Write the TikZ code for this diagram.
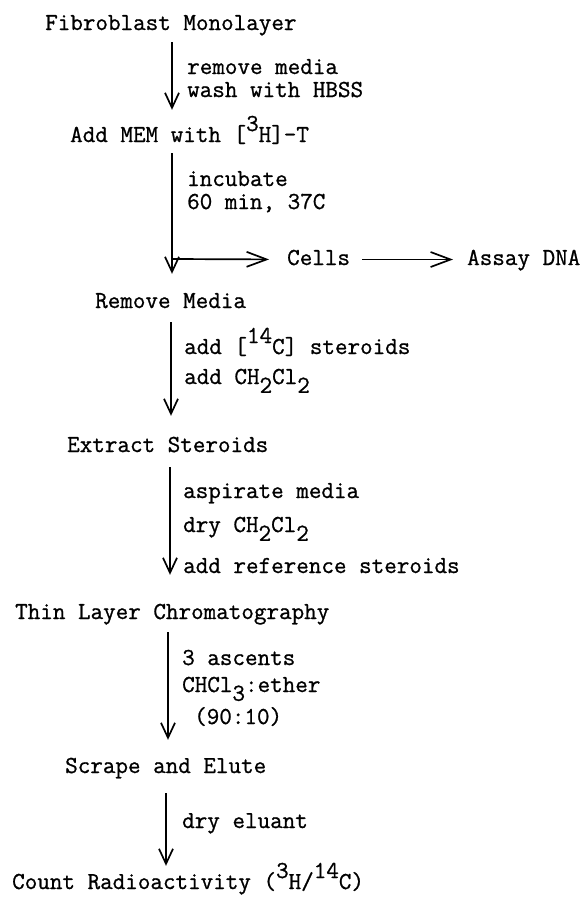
\documentclass[tikz,border=0pt]{standalone}
\usepackage{fontspec}
\setmonofont[FakeBold=0.9]{Latin Modern Mono}
\usetikzlibrary{arrows.meta}
\newcommand{\isosup}[1]{\raisebox{0.45em}{#1}}
\newcommand{\chemsub}[1]{\raisebox{-0.36em}{#1}}
\tikzset{
  stepnode/.style={anchor=base west, inner sep=0pt, text height=16pt, text depth=5pt},
  lbl/.style={anchor=base west, inner sep=0pt},
  varr/.style={-{Straight Barb[length=15pt,width=14pt]}, line width=1.7pt},
  harr/.style={-{Straight Barb[length=20pt,width=15pt]}, line width=1.7pt},
}
\begin{document}
\begin{tikzpicture}[x=1pt,y=-1pt,font=\fontsize{24.4}{28}\selectfont\ttfamily]
  \useasboundingbox (0,0) rectangle (587,898);
  % steps
  \node[stepnode] (fib) at (45,30) {Fibroblast Monolayer};
  \node[stepnode] (mem) at (70,142) {Add MEM with [\isosup{3}H]-T};
  \node[stepnode] (rem) at (95,308) {Remove Media};
  \node[stepnode] (ext) at (67,452) {Extract Steroids};
  \node[stepnode] (tlc) at (15,619) {Thin Layer Chromatography};
  \node[stepnode] (scr) at (65,773) {Scrape and Elute};
  \node[stepnode] (cnt) at (12,889) {Count Radioactivity (\isosup{3}H/\isosup{14}C)};
  \node[stepnode] (cells) at (287,265) {Cells};
  \node[stepnode] (assay) at (467,265) {Assay DNA};
  % labels beside the arrows
  \node[lbl] (l1a) at (187,74) {remove media};
  \node[lbl] (l1b) at (187,97) {wash with HBSS};
  \node[lbl] (l2a) at (187,186) {incubate};
  \node[lbl] (l2b) at (187,209) {60 min, 37C};
  \node[lbl] (l3a) at (184,354) {add [\isosup{14}C] steroids};
  \node[lbl] (l3b) at (184,384) {add CH\chemsub{2}Cl\chemsub{2}};
  \node[lbl] (l4a) at (183,498) {aspirate media};
  \node[lbl] (l4b) at (183,532) {dry CH\chemsub{2}Cl\chemsub{2}};
  \node[lbl] (l4c) at (183,573) {add reference steroids};
  \node[lbl] (l5a) at (182,665) {3 ascents};
  \node[lbl] (l5b) at (182,692) {CHCl\chemsub{3}:ether};
  \node[lbl] (l5c) at (194,724) {(90:10)};
  \node[lbl] (l6a) at (182,828) {dry eluant};
  % arrows
  \draw[varr, shorten <=7pt, shorten >=16pt] (fib.south -| 172,0) -- (mem.north -| 172,0);
  \draw[varr, shorten <=6pt, shorten >=18pt] (mem.south -| 172,0) -- (rem.north -| 172,0);
  \coordinate (br) at (172,259);
  \draw[harr, shorten >=18pt] (br) -- (cells.west);
  \draw[harr, shorten <=12pt, shorten >=14pt] (cells.east) -- (assay.west);
  \draw[varr, shorten <=9pt, shorten >=20pt] (rem.south -| 171,0) -- (ext.north -| 171,0);
  \draw[varr, shorten <=10pt, shorten >=28pt] (ext.south -| 170,0) -- (tlc.north -| 170,0);
  \draw[varr, shorten <=8pt, shorten >=17pt] (tlc.south -| 168,0) -- (scr.north -| 168,0);
  \draw[varr, shorten <=15pt, shorten >=7pt] (scr.south -| 166,0) -- (cnt.north -| 166,0);
\end{tikzpicture}
\end{document}
